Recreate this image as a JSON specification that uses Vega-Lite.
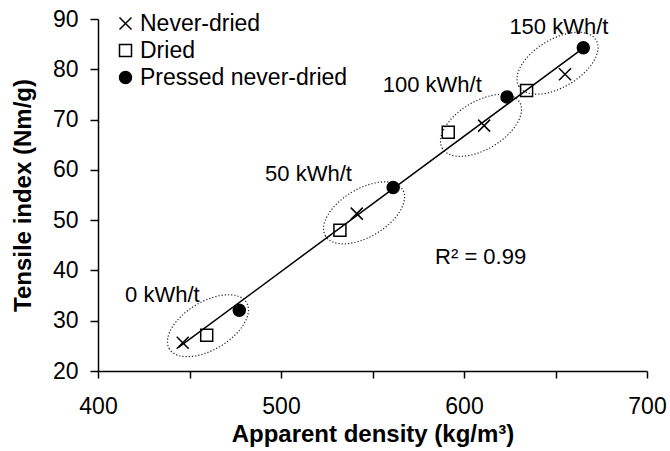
{
  "$schema": "https://vega.github.io/schema/vega-lite/v6.json",
  "width": 549,
  "height": 352,
  "autosize": "none",
  "padding": {"left": 98, "top": 19, "right": 23, "bottom": 80},
  "background": "white",
  "config": {
    "view": {"stroke": null},
    "font": "Liberation Sans",
    "axis": {
      "grid": false,
      "domainColor": "black",
      "domainWidth": 1.5,
      "tickColor": "black",
      "tickWidth": 1.5,
      "tickSize": 7,
      "labelFont": "Liberation Sans",
      "labelFontSize": 23,
      "labelColor": "black",
      "titleFont": "Liberation Sans",
      "titleFontSize": 24,
      "titleFontWeight": "bold",
      "titleColor": "black"
    }
  },
  "encoding": {
    "x": {
      "field": "x",
      "type": "quantitative",
      "scale": {"domain": [400, 700], "nice": false, "zero": false},
      "axis": {
        "title": "Apparent density (kg/m³)",
        "values": [400, 450, 500, 550, 600, 650, 700],
        "labelExpr": "datum.value % 100 === 0 ? datum.label : ''",
        "labelFlush": false,
        "labelOverlap": false,
        "labelPadding": 17,
        "titleX": 274.5,
        "titleY": 70.5,
        "titleBaseline": "alphabetic",
        "titleAlign": "center"
      }
    },
    "y": {
      "field": "y",
      "type": "quantitative",
      "scale": {"domain": [20, 90], "nice": false, "zero": false},
      "axis": {
        "title": "Tensile index (Nm/g)",
        "values": [20, 30, 40, 50, 60, 70, 80, 90],
        "tickSize": 8,
        "labelPadding": 12,
        "labelOverlap": false,
        "titleX": -68,
        "titleY": 176,
        "titleAngle": 270,
        "titleBaseline": "alphabetic",
        "titleAlign": "center"
      }
    }
  },
  "layer": [
    {
      "data": {"values": [
        {"x": 460.1, "y": 29.0},
        {"x": 545.4, "y": 51.45},
        {"x": 609.3, "y": 68.85},
        {"x": 651.1, "y": 81.2}
      ]},
      "mark": {
        "type": "point",
        "shape": "M -1 0 C -1 -0.294 -0.552 -0.533 0 -0.533 C 0.552 -0.533 1 -0.294 1 0 C 1 0.294 0.552 0.533 0 0.533 C -0.552 0.533 -1 0.294 -1 0 Z",
        "size": 8100,
        "angle": 329,
        "filled": false,
        "fill": "transparent",
        "stroke": "#222222",
        "strokeWidth": 1.2,
        "strokeDash": [1.2, 2],
        "opacity": 1
      }
    },
    {
      "data": {"values": [
        {"x": 444, "y": 24.7},
        {"x": 665.5, "y": 84.3}
      ]},
      "mark": {"type": "line", "color": "black", "strokeWidth": 1.5}
    },
    {
      "data": {"values": [
        {"group": "Never-dried", "x": 446.3, "y": 25.6},
        {"group": "Never-dried", "x": 541.4, "y": 51.3},
        {"group": "Never-dried", "x": 611.0, "y": 68.8},
        {"group": "Never-dried", "x": 655.2, "y": 79.0},
        {"group": "Dried", "x": 459.4, "y": 27.1},
        {"group": "Dried", "x": 532.2, "y": 48.0},
        {"group": "Dried", "x": 591.4, "y": 67.5},
        {"group": "Dried", "x": 634.2, "y": 75.8},
        {"group": "Pressed never-dried", "x": 477.2, "y": 32.1},
        {"group": "Pressed never-dried", "x": 561.3, "y": 56.5},
        {"group": "Pressed never-dried", "x": 623.5, "y": 74.5},
        {"group": "Pressed never-dried", "x": 665.2, "y": 84.3}
      ]},
      "mark": {"type": "point", "size": 144, "strokeWidth": 1.5, "opacity": 1},
      "encoding": {
        "shape": {
          "field": "group",
          "type": "nominal",
          "scale": {
            "domain": ["Never-dried", "Dried", "Pressed never-dried"],
            "range": ["M -1 -1 L 1 1 M -1 1 L 1 -1", "square", "circle"]
          },
          "legend": {
            "orient": "none",
            "legendX": 16,
            "legendY": -7,
            "title": null,
            "labelFont": "Liberation Sans",
            "labelFontSize": 23,
            "labelColor": "black",
            "labelLimit": 0,
            "symbolSize": 144,
            "symbolStrokeWidth": 1.5,
            "rowPadding": 3,
            "labelOffset": 3,
            "padding": 0
          }
        },
        "fill": {
          "field": "group",
          "type": "nominal",
          "scale": {
            "domain": ["Never-dried", "Dried", "Pressed never-dried"],
            "range": ["transparent", "transparent", "black"]
          },
          "legend": {
            "orient": "none",
            "legendX": 16,
            "legendY": -7,
            "title": null,
            "labelFont": "Liberation Sans",
            "labelFontSize": 23,
            "labelColor": "black",
            "labelLimit": 0,
            "symbolSize": 144,
            "symbolStrokeWidth": 1.5,
            "rowPadding": 3,
            "labelOffset": 3,
            "padding": 0
          }
        },
        "stroke": {
          "field": "group",
          "type": "nominal",
          "scale": {
            "domain": ["Never-dried", "Dried", "Pressed never-dried"],
            "range": ["black", "black", "black"]
          },
          "legend": {
            "orient": "none",
            "legendX": 16,
            "legendY": -7,
            "title": null,
            "labelFont": "Liberation Sans",
            "labelFontSize": 23,
            "labelColor": "black",
            "labelLimit": 0,
            "symbolSize": 144,
            "symbolStrokeWidth": 1.5,
            "rowPadding": 3,
            "labelOffset": 3,
            "padding": 0
          }
        }
      }
    },
    {
      "data": {"values": [
        {"x": 414.8, "y": 33.7, "label": "0 kWh/t"},
        {"x": 491.3, "y": 57.8, "label": "50 kWh/t"},
        {"x": 555.6, "y": 75.5, "label": "100 kWh/t"},
        {"x": 624.8, "y": 87.1, "label": "150 kWh/t"},
        {"x": 584.2, "y": 41.35, "label": "R² = 0.99"}
      ]},
      "mark": {"type": "text", "align": "left", "baseline": "alphabetic", "fontSize": 22, "font": "Liberation Sans", "color": "black"},
      "encoding": {"text": {"field": "label", "type": "nominal"}}
    }
  ]
}
